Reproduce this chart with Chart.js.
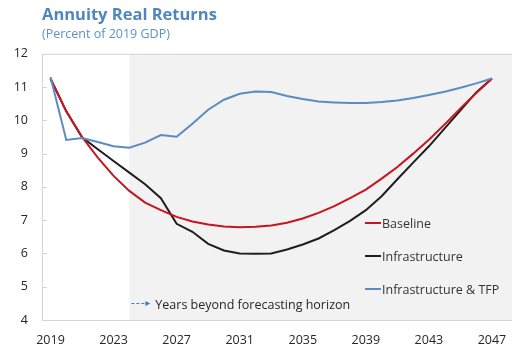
<!DOCTYPE html>
<html>
<head>
<meta charset="utf-8">
<script src="https://cdn.jsdelivr.net/npm/chart.js@4.4.1/dist/chart.umd.min.js"></script>
<style>
  html, body { margin: 0; padding: 0; background: #fff; }
  #wrap { width: 512px; height: 350px; position: relative; }
</style>
</head>
<body>
<div id="wrap"><canvas id="chart"></canvas></div>
<script>
// Annual series, 2019-2047
const years = [2019, 2020, 2021, 2022, 2023, 2024, 2025, 2026, 2027, 2028,
               2029, 2030, 2031, 2032, 2033, 2034, 2035, 2036, 2037, 2038,
               2039, 2040, 2041, 2042, 2043, 2044, 2045, 2046, 2047];

const baseline = [11.25, 10.27, 9.50, 8.88, 8.33, 7.88, 7.53, 7.30, 7.10, 6.96,
                  6.87, 6.81, 6.79, 6.80, 6.84, 6.92, 7.05, 7.22, 7.42, 7.66,
                  7.92, 8.25, 8.60, 9.00, 9.42, 9.88, 10.36, 10.82, 11.26];

const infrastructure = [11.25, 10.27, 9.49, 9.13, 8.78, 8.43, 8.08, 7.66, 6.89, 6.65,
                        6.29, 6.09, 6.00, 5.99, 6.00, 6.12, 6.27, 6.45, 6.70, 6.98,
                        7.30, 7.72, 8.23, 8.73, 9.22, 9.76, 10.30, 10.84, 11.26];

const infraTfp = [11.30, 9.41, 9.47, 9.35, 9.22, 9.18, 9.33, 9.56, 9.51, 9.90,
                  10.32, 10.62, 10.80, 10.87, 10.85, 10.73, 10.64, 10.57, 10.54, 10.52,
                  10.52, 10.55, 10.60, 10.67, 10.76, 10.86, 10.98, 11.11, 11.26];

const seriesNames = ['Baseline', 'Infrastructure', 'Infrastructure & TFP'];
const seriesColors = ['#c8141e', '#1e1e1e', '#5b8cbf'];

const xTickLabels = [2019, 2023, 2027, 2031, 2035, 2039, 2043, 2047];
const yTickLabels = [4, 5, 6, 7, 8, 9, 10, 11, 12];

const forecastStart = 2024;

const FONT = "'Open Sans', 'Noto Sans', sans-serif";

function toPoints(values) {
    return years.map((yr, i) => ({ x: yr, y: values[i] }));
}

// Gray "beyond horizon" band, plot frame and inward y ticks
const plotFrame = {
    id: 'plotFrame',
    beforeDatasetsDraw(chart) {
        const { ctx, chartArea: a, scales } = chart;
        const xs = scales.x.getPixelForValue(forecastStart);
        ctx.save();
        ctx.fillStyle = '#f2f2f2';
        ctx.fillRect(xs, a.top, a.right - xs, a.bottom - a.top);

        ctx.strokeStyle = '#d4d4d4';
        ctx.lineWidth = 1;
        ctx.beginPath();
        ctx.moveTo(a.left + 0.5, a.top + 0.5);
        ctx.lineTo(a.right, a.top + 0.5);
        ctx.moveTo(a.left + 0.5, a.top);
        ctx.lineTo(a.left + 0.5, a.bottom + 0.5);
        ctx.lineTo(a.right, a.bottom + 0.5);
        yTickLabels.forEach(v => {
            const py = Math.round(scales.y.getPixelForValue(v)) + 0.5;
            ctx.moveTo(a.left, py);
            ctx.lineTo(a.left + 5, py);
        });
        ctx.stroke();
        ctx.restore();
    }
};

// Legend inside the plot and the horizon note with its arrow
const overlays = {
    id: 'overlays',
    afterDraw(chart) {
        const { ctx, scales } = chart;
        ctx.save();
        ctx.font = '12.5px ' + FONT;
        ctx.textBaseline = 'middle';
        ctx.textAlign = 'left';

        const legendY = [223, 256, 289];
        seriesNames.forEach((name, i) => {
            ctx.strokeStyle = seriesColors[i];
            ctx.lineWidth = 2;
            ctx.beginPath();
            ctx.moveTo(365, legendY[i]);
            ctx.lineTo(381, legendY[i]);
            ctx.stroke();
            ctx.fillStyle = '#333';
            ctx.fillText(name, 382, legendY[i] + 1);
        });

        const ax = scales.x.getPixelForValue(forecastStart) + 2;
        const ay = 303.5;
        ctx.strokeStyle = '#4a7ebb';
        ctx.lineWidth = 1;
        ctx.setLineDash([3, 2]);
        ctx.beginPath();
        ctx.moveTo(ax, ay);
        ctx.lineTo(ax + 14, ay);
        ctx.stroke();
        ctx.setLineDash([]);
        ctx.fillStyle = '#4a7ebb';
        ctx.beginPath();
        ctx.moveTo(ax + 14, ay - 2.5);
        ctx.lineTo(ax + 19, ay);
        ctx.lineTo(ax + 14, ay + 2.5);
        ctx.closePath();
        ctx.fill();

        ctx.fillStyle = '#262626';
        ctx.fillText('Years beyond forecasting horizon', ax + 24, ay + 1.5);
        ctx.restore();
    }
};

const ctx = document.getElementById('chart').getContext('2d');

new Chart(ctx, {
    type: 'line',
    data: {
        datasets: [
            { label: seriesNames[0], data: toPoints(baseline), borderColor: seriesColors[0], order: 1 },
            { label: seriesNames[1], data: toPoints(infrastructure), borderColor: seriesColors[1], order: 2 },
            { label: seriesNames[2], data: toPoints(infraTfp), borderColor: seriesColors[2], order: 0 }
        ]
    },
    options: {
        responsive: true,
        maintainAspectRatio: false,
        animation: false,
        elements: {
            line: { borderWidth: 2, tension: 0, fill: false },
            point: { radius: 0, hoverRadius: 0 }
        },
        layout: { padding: 0 },
        scales: {
            x: {
                type: 'linear',
                min: 2018.46,
                max: 2048.27,
                afterBuildTicks: scale => {
                    scale.ticks = xTickLabels.map(v => ({ value: v }));
                },
                afterFit: scale => {
                    scale.height = 30;
                    scale.paddingLeft = 0;
                    scale.paddingRight = 0;
                },
                grid: { display: false, drawTicks: false },
                border: { display: false },
                ticks: {
                    callback: v => String(v),
                    autoSkip: false,
                    maxRotation: 0,
                    padding: 13,
                    color: '#262626',
                    font: { family: FONT, size: 12.5 }
                }
            },
            y: {
                min: 4,
                max: 12,
                afterBuildTicks: scale => {
                    scale.ticks = yTickLabels.map(v => ({ value: v }));
                },
                afterFit: scale => {
                    scale.width = 42;
                    scale.paddingTop = 0;
                    scale.paddingBottom = 0;
                },
                grid: { display: false, drawTicks: false },
                border: { display: false },
                ticks: {
                    padding: 14,
                    color: '#262626',
                    font: { family: FONT, size: 12.5 }
                }
            }
        },
        plugins: {
            legend: { display: false },
            tooltip: { enabled: false },
            title: {
                display: true,
                text: 'Annuity Real Returns',
                align: 'start',
                fullSize: false,
                color: '#4f86bd',
                font: { family: FONT, size: 16.5, weight: 'bold' },
                padding: { top: 5, bottom: 0 }
            },
            subtitle: {
                display: true,
                text: '(Percent of 2019 GDP)',
                align: 'start',
                fullSize: false,
                color: '#5b93c7',
                font: { family: FONT, size: 12.5 },
                padding: { top: 2, bottom: 12 }
            }
        }
    },
    plugins: [plotFrame, overlays]
});
</script>
</body>
</html>
